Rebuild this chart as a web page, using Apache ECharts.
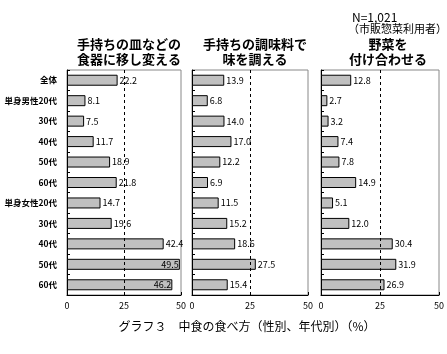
<!DOCTYPE html>
<html>
<head>
<meta charset="utf-8">
<script src="https://cdn.jsdelivr.net/npm/echarts@6/dist/echarts.min.js"></script>
<style>
  html, body { margin: 0; padding: 0; background: #fff; }
  #chart { width: 447px; height: 354px; }
</style>
</head>
<body>
<div id="chart"></div>
<script>
// カテゴリ
const categories = ['全体', '単身男性20代', '30代', '40代', '50代', '60代', '単身女性20代', '30代', '40代', '50代', '60代']
// 各設問の値 (%)
const dishValues = [22.2, 8.1, 7.5, 11.7, 18.9, 21.8, 14.7, 19.6, 42.4, 49.5, 46.2]
const seasonValues = [13.9, 6.8, 14.0, 17.0, 12.2, 6.9, 11.5, 15.2, 18.6, 27.5, 15.4]
const vegeValues = [12.8, 2.7, 3.2, 7.4, 7.8, 14.9, 5.1, 12.0, 30.4, 31.9, 26.9]
const panelTitles = ['手持ちの皿などの\n食器に移し変える', '手持ちの調味料で\n味を調える', '野菜を\n付け合わせる']
const xTicks = [0, 25, 50]

const font = '"Noto Sans CJK JP", sans-serif'
const chart = echarts.init(document.getElementById('chart'))

const grids = [
  { left: 67, width: 114 },
  { left: 192, width: 116 },
  { left: 321, width: 124 }
]
const allValues = [dishValues, seasonValues, vegeValues]

// 枠からはみ出すラベルは棒の内側に寄せる
const toData = vals => vals.map(v => v > 44
  ? { value: v, label: { position: 'insideRight', distance: 1 } }
  : v)

chart.setOption({
  animation: false,
  title: [
    ...panelTitles.map((t, i) => ({
      text: t,
      left: grids[i].left + grids[i].width / 2,
      top: 32,
      textAlign: 'center',
      textStyle: { fontFamily: font, fontSize: 13, fontWeight: 'bold', color: '#000', lineHeight: 15 }
    })),
    {
      text: 'N=1,021',
      left: 347,
      top: 6,
      textStyle: { fontFamily: font, fontSize: 12, fontWeight: 'normal', color: '#000' }
    },
    {
      text: '（市販惣菜利用者）',
      left: 343,
      top: 18,
      textStyle: { fontFamily: font, fontSize: 11, fontWeight: 'normal', color: '#000' }
    },
    {
      text: 'グラフ３　中食の食べ方（性別、年代別）（%）',
      left: 242,
      top: 315,
      textAlign: 'center',
      textStyle: { fontFamily: font, fontSize: 12, fontWeight: 'normal', color: '#000' }
    }
  ],
  grid: grids.map(g => ({
    left: g.left, width: g.width, top: 70, height: 225,
    show: true, borderColor: '#888', borderWidth: 1, backgroundColor: '#fff'
  })),
  xAxis: grids.map((g, i) => ({
    type: 'value',
    gridIndex: i,
    min: 0, max: 50, interval: 25,
    axisLine: { show: true, lineStyle: { color: '#000' } },
    axisTick: { show: true, inside: true, length: 3, lineStyle: { color: '#000' } },
    axisLabel: { fontFamily: font, fontSize: 9, color: '#000', margin: 6 },
    splitLine: { show: false }
  })),
  yAxis: grids.map((g, i) => ({
    type: 'category',
    gridIndex: i,
    inverse: true,
    data: categories.map((c, k) => k),
    axisLine: { show: true, lineStyle: { color: '#000' } },
    axisTick: { show: true, inside: true, length: 3, lineStyle: { color: '#000' } },
    axisLabel: {
      show: i === 0,
      fontFamily: font, fontSize: 8.5, fontWeight: 'bold', color: '#000', margin: 10,
      formatter: v => categories[v]
    }
  })),
  series: allValues.map((vals, i) => ({
    type: 'bar',
    xAxisIndex: i,
    yAxisIndex: i,
    data: toData(vals),
    barWidth: 11,
    itemStyle: { color: '#c0c0c0', borderColor: '#000', borderWidth: 1 },
    label: {
      show: true, position: 'right', distance: 2,
      fontFamily: font, fontSize: 9, color: '#000',
      formatter: p => p.value.toFixed(1)
    },
    markLine: {
      silent: true,
      symbol: 'none',
      label: { show: false },
      lineStyle: { color: '#000', type: [3, 3], width: 1 },
      data: [{ xAxis: 25 }]
    }
  }))
})
</script>
</body>
</html>
